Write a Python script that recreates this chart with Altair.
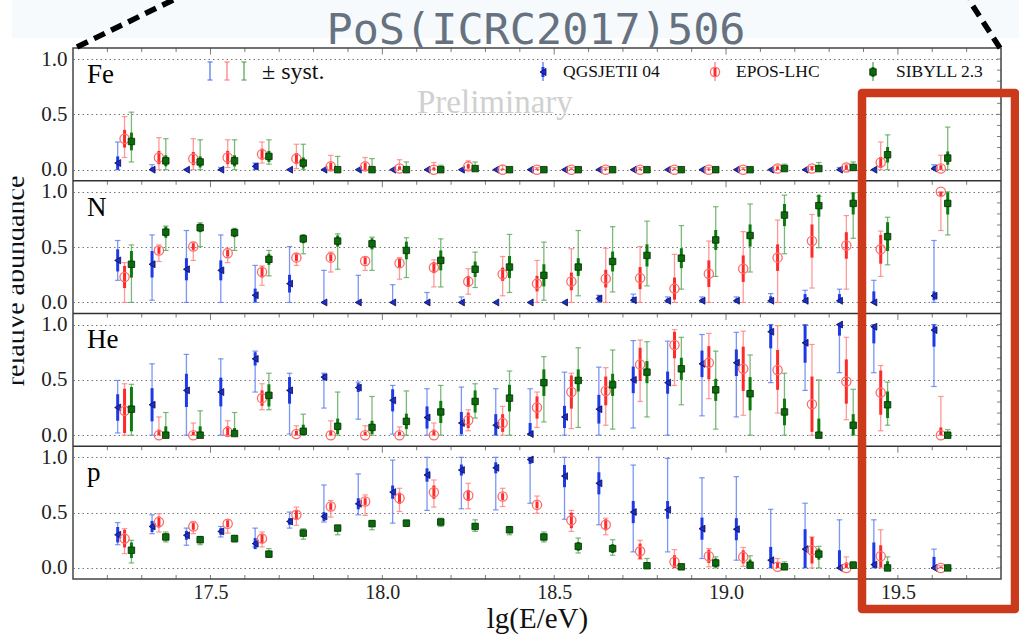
import altair as alt
import pandas as pd

# ---------------------------------------------------------------------------
# Energy bins (bin centres in lg(E/eV)); the last bin is the open high-energy one
# ---------------------------------------------------------------------------
LG_E = [17.25, 17.35, 17.45, 17.55, 17.65, 17.75, 17.85, 17.95, 18.05, 18.15,
        18.25, 18.35, 18.45, 18.55, 18.65, 18.75, 18.85, 18.95, 19.05, 19.15,
        19.25, 19.35, 19.45, 19.625]

PANELS = ["Fe", "N", "He", "p"]
MODELS = ["QGSJETII 04", "EPOS-LHC", "SIBYLL 2.3"]

X_MAJOR = [17.5, 18.0, 18.5, 19.0, 19.5]
X_MINOR = [17.2, 17.3, 17.4, 17.6, 17.7, 17.8, 17.9, 18.1, 18.2, 18.3, 18.4,
           18.6, 18.7, 18.8, 18.9, 19.1, 19.2, 19.3, 19.4, 19.6, 19.7]
Y_LABELS = [0.0, 0.5, 1.0]
Y_MINOR = [0.0, 0.1, 0.2, 0.3, 0.4, 0.5, 0.6, 0.7, 0.8, 0.9, 1.0]

# --- Fe --------------------------------------------------------------------
FE_QGS = [0.06, 0.0, 0.0, 0.0, 0.03, 0.0, 0.0, 0.0, 0.0, 0.0, 0.0, 0.0,
          0.0, 0.0, 0.0, 0.0, 0.0, 0.0, 0.0, 0.0, 0.0, 0.0, 0.0, 0.01]
FE_QGS_LO = [0.0, 0.0, 0.0, 0.0, 0.0, 0.0, 0.0, 0.0, 0.0, 0.0, 0.0, 0.0,
             0.0, 0.0, 0.0, 0.0, 0.0, 0.0, 0.0, 0.0, 0.0, 0.0, 0.0, 0.0]
FE_QGS_HI = [0.25, 0.045, 0.0, 0.02, 0.06, 0.0, 0.0, 0.0, 0.0, 0.0, 0.0, 0.0,
             0.0, 0.0, 0.0, 0.0, 0.0, 0.0, 0.0, 0.0, 0.0, 0.02, 0.0, 0.045]
FE_QGS_STAT = [0.06, 0.02, 0.0, 0.01, 0.03, 0.0, 0.0, 0.0, 0.0, 0.0, 0.0, 0.0,
               0.0, 0.0, 0.0, 0.0, 0.0, 0.0, 0.0, 0.0, 0.0, 0.01, 0.0, 0.02]

FE_EPOS = [0.28, 0.11, 0.10, 0.11, 0.14, 0.10, 0.03, 0.03, 0.01, 0.0, 0.03, 0.0,
           0.0, 0.0, 0.0, 0.0, 0.0, 0.0, 0.0, 0.01, 0.01, 0.02, 0.065, 0.01]
FE_EPOS_LO = [0.11, 0.0, 0.0, 0.02, 0.06, 0.01, 0.0, 0.0, 0.0, 0.0, 0.0, 0.0,
              0.0, 0.0, 0.0, 0.0, 0.0, 0.0, 0.0, 0.0, 0.0, 0.0, 0.0, 0.0]
FE_EPOS_HI = [0.48, 0.29, 0.28, 0.27, 0.25, 0.23, 0.13, 0.11, 0.09, 0.065, 0.08, 0.04,
              0.02, 0.02, 0.02, 0.02, 0.02, 0.02, 0.02, 0.04, 0.03, 0.05, 0.25, 0.13]
FE_EPOS_STAT = [0.08, 0.06, 0.06, 0.06, 0.05, 0.05, 0.03, 0.03, 0.02, 0.02, 0.02, 0.01,
                0.01, 0.01, 0.01, 0.01, 0.01, 0.01, 0.01, 0.02, 0.02, 0.02, 0.05, 0.03]

FE_SIB = [0.255, 0.08, 0.07, 0.08, 0.12, 0.06, 0.0, 0.0, 0.0, 0.0, 0.01, 0.0,
          0.0, 0.0, 0.0, 0.0, 0.0, 0.0, 0.0, 0.01, 0.01, 0.02, 0.135, 0.105]
FE_SIB_LO = [0.07, 0.0, 0.0, 0.0, 0.05, 0.0, 0.0, 0.0, 0.0, 0.0, 0.0, 0.0,
             0.0, 0.0, 0.0, 0.0, 0.0, 0.0, 0.0, 0.0, 0.0, 0.0, 0.0, 0.0]
FE_SIB_HI = [0.52, 0.28, 0.27, 0.27, 0.27, 0.23, 0.12, 0.10, 0.07, 0.04, 0.07, 0.02,
             0.01, 0.01, 0.01, 0.01, 0.01, 0.01, 0.02, 0.05, 0.065, 0.07, 0.315, 0.385]
FE_SIB_STAT = [0.08, 0.05, 0.05, 0.05, 0.05, 0.05, 0.02, 0.02, 0.02, 0.01, 0.02, 0.01,
               0.01, 0.01, 0.01, 0.01, 0.01, 0.01, 0.01, 0.02, 0.03, 0.03, 0.07, 0.06]

# --- N ---------------------------------------------------------------------
N_QGS = [0.38, 0.345, 0.30, 0.29, 0.065, 0.17, 0.0, 0.0, 0.0, 0.0, 0.0, 0.0,
         0.0, 0.0, 0.035, 0.02, 0.015, 0.015, 0.015, 0.015, 0.015, 0.015, 0.0, 0.06]
N_QGS_LO = [0.2, 0.02, 0.0, 0.0, 0.0, 0.0, 0.0, 0.0, 0.0, 0.0, 0.0, 0.0,
            0.0, 0.0, 0.0, 0.0, 0.0, 0.0, 0.0, 0.0, 0.0, 0.0, 0.0, 0.0]
N_QGS_HI = [0.56, 0.61, 0.65, 0.61, 0.335, 0.505, 0.29, 0.245, 0.16, 0.09, 0.05, 0.0,
            0.0, 0.0, 0.065, 0.075, 0.05, 0.05, 0.05, 0.08, 0.11, 0.12, 0.2, 0.56]
N_QGS_STAT = [0.1, 0.12, 0.1, 0.09, 0.06, 0.08, 0.0, 0.0, 0.0, 0.0, 0.0, 0.0,
              0.0, 0.0, 0.03, 0.03, 0.02, 0.02, 0.02, 0.04, 0.06, 0.06, 0.1, 0.04]

N_EPOS = [0.23, 0.47, 0.505, 0.445, 0.275, 0.405, 0.405, 0.375, 0.355, 0.315, 0.19, 0.255,
          0.17, 0.19, 0.215, 0.22, 0.125, 0.26, 0.305, 0.405, 0.555, 0.515, 0.48, 1.0]
N_EPOS_LO = [0.0, 0.37, 0.38, 0.36, 0.155, 0.335, 0.275, 0.29, 0.21, 0.14, 0.075, 0.06,
             0.0, 0.0, 0.0, 0.0, 0.0, 0.0, 0.0, 0.0, 0.13, 0.12, 0.235, 0.65]
N_EPOS_HI = [0.36, 0.52, 0.545, 0.49, 0.33, 0.44, 0.455, 0.41, 0.405, 0.385, 0.305, 0.415,
             0.38, 0.485, 0.49, 0.505, 0.435, 0.555, 0.64, 0.745, 0.795, 0.785, 0.645, 1.0]
N_EPOS_STAT = [0.1, 0.03, 0.03, 0.03, 0.05, 0.03, 0.03, 0.03, 0.04, 0.05, 0.05, 0.06,
               0.07, 0.08, 0.08, 0.1, 0.1, 0.12, 0.12, 0.12, 0.15, 0.12, 0.13, 0.04]

N_SIB = [0.345, 0.635, 0.675, 0.63, 0.39, 0.575, 0.555, 0.53, 0.47, 0.38, 0.30, 0.32,
         0.245, 0.32, 0.37, 0.425, 0.40, 0.565, 0.605, 0.79, 0.875, 0.895, 0.595, 0.895]
N_SIB_LO = [0.0, 0.47, 0.505, 0.47, 0.24, 0.44, 0.30, 0.29, 0.225, 0.14, 0.135, 0.09,
            0.02, 0.06, 0.095, 0.15, 0.12, 0.235, 0.275, 0.44, 0.495, 0.58, 0.34, 0.61]
N_SIB_HI = [0.52, 0.69, 0.72, 0.67, 0.47, 0.61, 0.62, 0.59, 0.585, 0.575, 0.455, 0.615,
            0.545, 0.65, 0.685, 0.735, 0.695, 0.865, 0.89, 0.97, 0.96, 0.99, 0.77, 1.0]
N_SIB_STAT = [0.12, 0.05, 0.04, 0.04, 0.05, 0.04, 0.05, 0.05, 0.08, 0.09, 0.07, 0.1,
              0.1, 0.08, 0.09, 0.1, 0.09, 0.09, 0.1, 0.1, 0.1, 0.1, 0.13, 0.1]

# --- He --------------------------------------------------------------------
HE_QGS = [0.25, 0.275, 0.405, 0.39, 0.69, 0.405, 0.525, 0.43, 0.315, 0.16, 0.11, 0.09,
          0.01, 0.165, 0.235, 0.50, 0.475, 0.645, 0.655, 0.935, 0.835, 1.0, 0.98, 0.95]
HE_QGS_LO = [0.02, 0.0, 0.0, 0.0, 0.39, 0.01, 0.245, 0.145, 0.01, 0.0, 0.0, 0.0,
             0.0, 0.0, 0.0, 0.065, 0.0, 0.175, 0.165, 0.475, 0.405, 0.565, 0.565, 0.44]
HE_QGS_HI = [0.495, 0.645, 0.73, 0.69, 0.76, 0.56, 0.56, 0.48, 0.45, 0.42, 0.435, 0.42,
             0.42, 0.57, 0.615, 0.855, 0.85, 0.91, 0.93, 1.0, 1.0, 1.0, 1.0, 1.0]
HE_QGS_STAT = [0.12, 0.15, 0.15, 0.13, 0.06, 0.12, 0.03, 0.04, 0.1, 0.1, 0.1, 0.1,
               0.1, 0.1, 0.13, 0.12, 0.1, 0.12, 0.12, 0.15, 0.18, 0.1, 0.15, 0.15]

HE_EPOS = [0.22, 0.0, 0.0, 0.03, 0.335, 0.01, 0.0, 0.0, 0.0, 0.0, 0.135, 0.11,
           0.25, 0.39, 0.40, 0.64, 0.815, 0.655, 0.60, 0.59, 0.28, 0.485, 0.385, 0.0]
HE_EPOS_LO = [0.0, 0.0, 0.0, 0.0, 0.23, 0.0, 0.0, 0.0, 0.0, 0.0, 0.04, 0.0,
              0.07, 0.06, 0.09, 0.305, 0.45, 0.33, 0.18, 0.2, 0.0, 0.14, 0.04, 0.0]
HE_EPOS_HI = [0.465, 0.165, 0.11, 0.13, 0.465, 0.085, 0.13, 0.085, 0.075, 0.11, 0.23, 0.26,
              0.39, 0.56, 0.61, 0.86, 0.955, 0.92, 0.94, 0.99, 0.82, 0.885, 0.63, 0.35]
HE_EPOS_STAT = [0.2, 0.05, 0.03, 0.05, 0.07, 0.03, 0.04, 0.03, 0.03, 0.05, 0.07, 0.08,
                0.1, 0.15, 0.13, 0.15, 0.12, 0.15, 0.2, 0.18, 0.25, 0.2, 0.2, 0.07]

HE_SIB = [0.235, 0.0, 0.0, 0.015, 0.36, 0.035, 0.08, 0.07, 0.125, 0.21, 0.305, 0.335,
          0.475, 0.495, 0.455, 0.57, 0.60, 0.41, 0.375, 0.21, 0.0, 0.09, 0.275, 0.0]
HE_SIB_LO = [0.0, 0.0, 0.0, 0.0, 0.23, 0.0, 0.0, 0.0, 0.0, 0.0, 0.155, 0.0,
             0.12, 0.07, 0.055, 0.165, 0.275, 0.055, 0.0, 0.0, 0.0, 0.0, 0.09, 0.0]
HE_SIB_HI = [0.46, 0.205, 0.22, 0.205, 0.56, 0.19, 0.39, 0.35, 0.40, 0.45, 0.465, 0.58,
             0.71, 0.79, 0.77, 0.845, 0.885, 0.76, 0.725, 0.56, 0.5, 0.415, 0.48, 0.05]
HE_SIB_STAT = [0.2, 0.08, 0.08, 0.05, 0.1, 0.06, 0.07, 0.06, 0.07, 0.1, 0.1, 0.12,
               0.12, 0.1, 0.1, 0.1, 0.1, 0.1, 0.15, 0.12, 0.15, 0.1, 0.12, 0.02]

# --- p ---------------------------------------------------------------------
P_QGS = [0.30, 0.375, 0.295, 0.33, 0.22, 0.42, 0.465, 0.58, 0.685, 0.84, 0.885, 0.905,
         0.98, 0.83, 0.765, 0.505, 0.525, 0.355, 0.35, 0.07, 0.17, 0.0, 0.03, 0.0]
P_QGS_LO = [0.21, 0.31, 0.205, 0.28, 0.19, 0.36, 0.415, 0.48, 0.405, 0.52, 0.535, 0.525,
            0.585, 0.44, 0.39, 0.145, 0.145, 0.085, 0.07, 0.0, 0.0, 0.0, 0.0, 0.0]
P_QGS_HI = [0.41, 0.48, 0.36, 0.375, 0.36, 0.505, 0.75, 0.85, 0.975, 1.0, 1.0, 1.0,
            1.0, 1.0, 1.0, 0.93, 0.99, 0.815, 0.825, 0.53, 0.585, 0.435, 0.435, 0.17]
P_QGS_STAT = [0.07, 0.05, 0.04, 0.03, 0.05, 0.03, 0.04, 0.05, 0.06, 0.06, 0.05, 0.05,
              0.04, 0.1, 0.1, 0.1, 0.08, 0.1, 0.1, 0.12, 0.18, 0.16, 0.2, 0.1]

P_EPOS = [0.265, 0.415, 0.375, 0.40, 0.265, 0.48, 0.555, 0.60, 0.63, 0.685, 0.655, 0.645,
          0.57, 0.43, 0.39, 0.15, 0.055, 0.105, 0.10, 0.01, 0.16, 0.0, 0.105, 0.0]
P_EPOS_LO = [0.13, 0.325, 0.31, 0.315, 0.19, 0.385, 0.46, 0.475, 0.51, 0.55, 0.535, 0.555,
             0.495, 0.33, 0.30, 0.08, 0.0, 0.01, 0.015, 0.0, 0.0, 0.0, 0.0, 0.0]
P_EPOS_HI = [0.355, 0.49, 0.42, 0.435, 0.325, 0.55, 0.61, 0.66, 0.72, 0.795, 0.765, 0.72,
             0.65, 0.52, 0.45, 0.25, 0.165, 0.175, 0.185, 0.085, 0.28, 0.1, 0.345, 0.02]
P_EPOS_STAT = [0.08, 0.05, 0.03, 0.03, 0.04, 0.04, 0.03, 0.03, 0.05, 0.06, 0.05, 0.03,
               0.03, 0.07, 0.05, 0.07, 0.06, 0.06, 0.06, 0.04, 0.12, 0.05, 0.1, 0.01]

P_SIB = [0.16, 0.28, 0.255, 0.265, 0.125, 0.315, 0.36, 0.40, 0.405, 0.415, 0.375, 0.345,
         0.28, 0.195, 0.175, 0.02, 0.01, 0.045, 0.025, 0.01, 0.125, 0.025, 0.0, 0.0]
P_SIB_LO = [0.045, 0.235, 0.21, 0.235, 0.095, 0.26, 0.30, 0.345, 0.375, 0.375, 0.33, 0.30,
            0.235, 0.135, 0.115, 0.0, 0.0, 0.0, 0.0, 0.0, 0.0, 0.0, 0.0, 0.0]
P_SIB_HI = [0.25, 0.325, 0.285, 0.295, 0.175, 0.355, 0.385, 0.43, 0.43, 0.45, 0.435, 0.375,
            0.325, 0.27, 0.255, 0.085, 0.035, 0.10, 0.11, 0.055, 0.195, 0.055, 0.10, 0.01]
P_SIB_STAT = [0.07, 0.03, 0.02, 0.02, 0.03, 0.03, 0.02, 0.02, 0.02, 0.02, 0.03, 0.03,
              0.03, 0.04, 0.04, 0.03, 0.02, 0.04, 0.05, 0.03, 0.05, 0.02, 0.06, 0.01]

SERIES = {
    ("Fe", "QGSJETII 04"): (FE_QGS, FE_QGS_LO, FE_QGS_HI, FE_QGS_STAT),
    ("Fe", "EPOS-LHC"): (FE_EPOS, FE_EPOS_LO, FE_EPOS_HI, FE_EPOS_STAT),
    ("Fe", "SIBYLL 2.3"): (FE_SIB, FE_SIB_LO, FE_SIB_HI, FE_SIB_STAT),
    ("N", "QGSJETII 04"): (N_QGS, N_QGS_LO, N_QGS_HI, N_QGS_STAT),
    ("N", "EPOS-LHC"): (N_EPOS, N_EPOS_LO, N_EPOS_HI, N_EPOS_STAT),
    ("N", "SIBYLL 2.3"): (N_SIB, N_SIB_LO, N_SIB_HI, N_SIB_STAT),
    ("He", "QGSJETII 04"): (HE_QGS, HE_QGS_LO, HE_QGS_HI, HE_QGS_STAT),
    ("He", "EPOS-LHC"): (HE_EPOS, HE_EPOS_LO, HE_EPOS_HI, HE_EPOS_STAT),
    ("He", "SIBYLL 2.3"): (HE_SIB, HE_SIB_LO, HE_SIB_HI, HE_SIB_STAT),
    ("p", "QGSJETII 04"): (P_QGS, P_QGS_LO, P_QGS_HI, P_QGS_STAT),
    ("p", "EPOS-LHC"): (P_EPOS, P_EPOS_LO, P_EPOS_HI, P_EPOS_STAT),
    ("p", "SIBYLL 2.3"): (P_SIB, P_SIB_LO, P_SIB_HI, P_SIB_STAT),
}

# ---------------------------------------------------------------------------
# Layout: the four panels are stacked on one shared y scale, each panel
# covering [-0.1, 1.1] of abundance.
# ---------------------------------------------------------------------------
SERIF = "Liberation Serif"
PLOT_W, PLOT_H = 928, 531
SPAN = 1.2
Y_DOMAIN = [0, SPAN * len(PANELS)]
X_DOMAIN = [17.1, 19.8]


def panel_offset(panel):
    return (len(PANELS) - 1 - PANELS.index(panel)) * SPAN + 0.1


STYLE = {
    "QGSJETII 04": dict(dx=-0.02, sys="#5a7cf2", stat="#1d3ae6", fill="#1b2fc4",
                        stroke="#0b0b55", shape="triangle-left", size=48, filled=True),
    "EPOS-LHC": dict(dx=0.0, sys="#ff8080", stat="#ff2b2b", fill="#ff6b6b",
                     stroke="#ff6b6b", shape="circle", size=85, filled=False),
    "SIBYLL 2.3": dict(dx=0.02, sys="#5aa65a", stat="#0c7c0c", fill="#0a6b0a",
                       stroke="#062a06", shape="square", size=42, filled=True),
}

rows = []
for panel in PANELS:
    off = panel_offset(panel)
    for model in MODELS:
        vals, lo, hi, stat = SERIES[(panel, model)]
        for e, v, l, h, s in zip(LG_E, vals, lo, hi, stat):
            rows.append({
                "panel": panel, "model": model,
                "x": e + STYLE[model]["dx"],
                "v": v + off, "lo": l + off, "hi": h + off,
                "slo": max(v - s, 0.0) + off, "shi": min(v + s, 1.0) + off,
                "has_sys": (h - l) > 0.004, "has_stat": s > 0.004,
            })
df = pd.DataFrame(rows)

Y_TICK_POS = [round(panel_offset(p) + t, 3) for p in PANELS for t in Y_LABELS]
Y_RIGHT_TICKS = pd.DataFrame({"y": [round(panel_offset(p) + t, 3) for p in PANELS for t in Y_MINOR]})
PANEL_TOPS = [round(panel_offset(p) + 1.0 + 0.1, 3) for p in PANELS]

XS = alt.Scale(domain=X_DOMAIN, nice=False, zero=False)
YS = alt.Scale(domain=Y_DOMAIN, nice=False, zero=False)
XAX = alt.Axis(values=X_MAJOR, format=".1f", title="lg(E/eV)", grid=False, ticks=False,
               domain=False, labelFont=SERIF, labelFontSize=20, labelColor="#222",
               labelPadding=3, titleFont=SERIF, titleFontSize=29, titleFontWeight="normal",
               titleColor="#111", titlePadding=2)
YAX = alt.Axis(values=Y_TICK_POS, title=None, grid=True, gridDash=[1.5, 3],
               gridColor="#777", gridWidth=1, ticks=False, domain=False,
               labelExpr="format(((datum.value - 0.1 + 0.05) % 1.2) - 0.05, '.1f')",
               labelFont=SERIF, labelFontSize=21, labelColor="#222", labelPadding=6,
               labelOverlap=False)


def X(field):
    return alt.X(f"{field}:Q", scale=XS, axis=XAX)


def Y(field):
    return alt.Y(f"{field}:Q", scale=YS, axis=YAX)


ONE = pd.DataFrame({"k": [0]})


def px_rule(x1, y1, x2, y2, **kw):
    return alt.Chart(ONE).mark_rule(**kw).encode(
        x=alt.value(x1), y=alt.value(y1), x2=alt.value(x2), y2=alt.value(y2))


def px_text(txt, x, y, **kw):
    return alt.Chart(ONE).mark_text(text=txt, **kw).encode(x=alt.value(x), y=alt.value(y))


def marker(src, st):
    if st["filled"]:
        return alt.Chart(src).mark_point(shape=st["shape"], size=st["size"], filled=True,
                                         fill=st["fill"], stroke=st["stroke"],
                                         strokeWidth=0.8, opacity=1)
    return alt.Chart(src).mark_point(shape=st["shape"], size=st["size"], filled=False,
                                     stroke=st["stroke"], strokeWidth=1.3, opacity=1)


layers = []

# faint slide band behind the header
layers.append(alt.Chart(ONE).mark_rect(color="#f6fafd").encode(
    x=alt.value(-61), x2=alt.value(946), y=alt.value(-48), y2=alt.value(-10)))

# panel separators
layers.append(alt.Chart(pd.DataFrame({"y": PANEL_TOPS[1:]})).mark_rule(
    color="#333", strokeWidth=1.5).encode(y=Y("y")))

# inward ticks along the top of every panel and the bottom of the last one
top_minor = pd.DataFrame([{"x": x, "y": t} for t in PANEL_TOPS for x in X_MINOR])
top_major = pd.DataFrame([{"x": x, "y": t} for t in PANEL_TOPS for x in X_MAJOR])
layers.append(alt.Chart(top_minor).mark_tick(orient="vertical", size=4, thickness=1,
                                             yOffset=2, color="#444").encode(x=X("x"), y=Y("y")))
layers.append(alt.Chart(top_major).mark_tick(orient="vertical", size=6.5, thickness=1,
                                             yOffset=3.25, color="#444").encode(x=X("x"), y=Y("y")))
bottom = pd.DataFrame({"x": X_MINOR + X_MAJOR, "y": [0.0] * (len(X_MINOR) + len(X_MAJOR))})
layers.append(alt.Chart(bottom).mark_tick(orient="vertical", size=4, thickness=1,
                                          yOffset=-2, color="#444").encode(x=X("x"), y=Y("y")))
layers.append(alt.Chart(Y_RIGHT_TICKS.assign(x=X_DOMAIN[1])).mark_tick(
    orient="horizontal", size=4, thickness=1, xOffset=-2, color="#444").encode(x=X("x"), y=Y("y")))

# watermark
layers.append(px_text("Preliminary", 344, 65, font=SERIF, fontSize=33, color="#d0d0d0",
                      align="left", baseline="alphabetic"))

# data: systematic bars with caps, statistical bars, markers
for model in MODELS:
    st = STYLE[model]
    dm = df[df["model"] == model]
    ds = dm[dm["has_sys"]]
    layers.append(alt.Chart(ds).mark_rule(color=st["sys"], strokeWidth=1.3, opacity=0.8)
                  .encode(x=X("x"), y=Y("lo"), y2="hi:Q"))
    for end in ("lo", "hi"):
        layers.append(alt.Chart(ds).mark_tick(orient="horizontal", size=5.5, thickness=1.2,
                                              color=st["sys"], opacity=0.8)
                      .encode(x=X("x"), y=Y(end)))
    layers.append(alt.Chart(dm[dm["has_stat"]]).mark_rule(color=st["stat"], strokeWidth=3)
                  .encode(x=X("x"), y=Y("slo"), y2="shi:Q"))
    layers.append(marker(dm, st).encode(x=X("x"), y=Y("v")))

# panel names
names = pd.DataFrame({"panel": PANELS,
                      "x": [17.141] * len(PANELS),
                      "y": [t - 0.316 for t in PANEL_TOPS]})
layers.append(alt.Chart(names).mark_text(font=SERIF, fontSize=27, align="left",
                                         baseline="alphabetic", color="#000")
              .encode(x=X("x"), y=Y("y"), text="panel:N"))

# legend: systematic-bar key
for xk, model in zip([137, 154, 171], MODELS):
    c = STYLE[model]["sys"]
    layers.append(px_rule(xk, 14, xk, 32, color=c, strokeWidth=1.3))
    layers.append(px_rule(xk - 2.5, 14, xk + 2.5, 14, color=c, strokeWidth=1.2))
    layers.append(px_rule(xk - 2.5, 32, xk + 2.5, 32, color=c, strokeWidth=1.2))
layers.append(px_text("\u00b1 syst.", 189, 31, font=SERIF, fontSize=24, color="#111",
                      align="left", baseline="alphabetic"))

# legend: model key
for xk, xt, model in zip([470, 642, 800], [490, 663, 823], MODELS):
    st = STYLE[model]
    layers.append(px_rule(xk, 14, xk, 33, color=st["sys"], strokeWidth=1.3))
    layers.append(px_rule(xk, 19, xk, 29, color=st["stat"], strokeWidth=3))
    layers.append(marker(ONE, st).encode(x=alt.value(xk), y=alt.value(24)))
    layers.append(px_text(model, xt, 29, font=SERIF, fontSize=17.5, color="#111",
                          align="left", baseline="alphabetic"))

# y-axis title, partly hidden at the left edge of the page
layers.append(px_text("relative abundance", -49, 233, font=SERIF, fontSize=28, angle=270,
                      color="#111", align="center", baseline="alphabetic"))
layers.append(alt.Chart(ONE).mark_rect(color="white").encode(
    x=alt.value(-73), x2=alt.value(-60.5), y=alt.value(80), y2=alt.value(400)))

# header
layers.append(px_text("PoS(ICRC2017)506", 463, -4, font="DejaVu Sans Mono", fontSize=43.5,
                      color="#66727f", align="center", baseline="alphabetic"))
layers.append(px_rule(4, -1, 102, -49, color="black", strokeWidth=5.5, strokeDash=[12, 7]))
layers.append(px_rule(927, 0, 896, -48, color="black", strokeWidth=5.5, strokeDash=[12, 7]))

# highlight box over the highest-energy bins
layers.append(alt.Chart(ONE).mark_rect(fillOpacity=0, stroke="#cc3a1c", strokeWidth=8.5,
                                       strokeJoin="round")
              .encode(x=alt.value(789), x2=alt.value(942), y=alt.value(45), y2=alt.value(561)))

chart = (
    alt.layer(*layers)
    .properties(width=PLOT_W, height=PLOT_H,
                autosize=alt.AutoSizeParams(type="none"),
                padding={"left": 73, "top": 48, "right": 18, "bottom": 55})
    .configure(background="white")
    .configure_view(stroke="#444", strokeWidth=1.5)
)

chart.save("out.html", embed_options={"renderer": "svg", "actions": False})
